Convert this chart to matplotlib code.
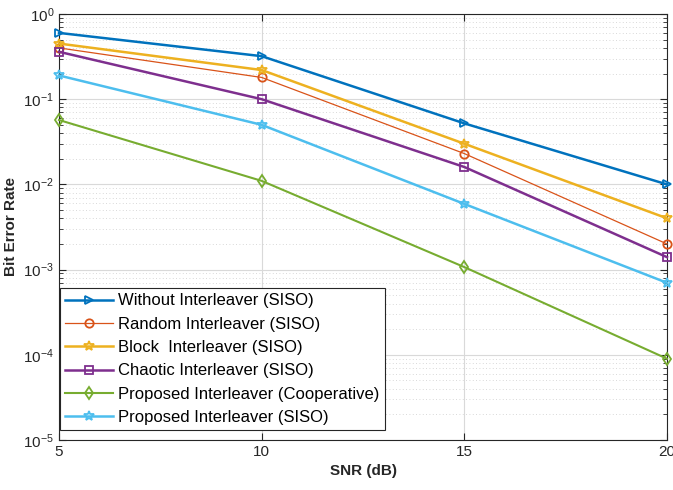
import matplotlib
matplotlib.use("Agg")
import matplotlib.pyplot as plt
from matplotlib.ticker import LogLocator, NullFormatter

plt.rcParams['font.family'] = ['Liberation Sans', 'DejaVu Sans']

snr = [5, 10, 15, 20]
without = [0.60, 0.32, 0.052, 0.010]
random_il = [0.40, 0.18, 0.023, 0.0020]
block_il = [0.45, 0.22, 0.030, 0.0040]
chaotic = [0.36, 0.10, 0.016, 0.0014]
prop_coop = [0.057, 0.011, 0.00107, 0.00009]
prop_siso = [0.19, 0.05, 0.0059, 0.0007]

labels = ["Without Interleaver (SISO)", "Random Interleaver (SISO)",
          "Block  Interleaver (SISO)", "Chaotic Interleaver (SISO)",
          "Proposed Interleaver (Cooperative)", "Proposed Interleaver (SISO)"]

fig = plt.figure(figsize=(6.73, 4.90), dpi=100)
ax = fig.add_axes([59/673, 50/490, 608/673, 426/490])

styles = [
    (without, '#0072BD', '>', 1.8, 6),
    (random_il, '#D95319', 'o', 0.9, 6),
    (block_il, '#EDB120', '*', 1.8, 7),
    (chaotic, '#7E2F8E', 's', 1.8, 6),
    (prop_coop, '#77AC30', 'd', 1.5, 6),
    (prop_siso, '#4DBEEE', '*', 1.8, 7),
]
for (vals, c, m, lw, ms), lab in zip(styles, labels):
    ax.semilogy(snr, vals, color=c, marker=m, lw=lw, ms=ms,
                markerfacecolor='none', markeredgewidth=1.3, label=lab, clip_on=False, zorder=3)

ax.set_xlim(5, 20)
ax.set_ylim(1e-5, 1)
ax.set_xticks([5, 10, 15, 20])
ax.yaxis.set_major_locator(LogLocator(base=10, numticks=10))
ax.yaxis.set_minor_locator(LogLocator(base=10, subs=range(2, 10), numticks=10))
ax.yaxis.set_minor_formatter(NullFormatter())
ax.grid(True, which='major', color='#d9d9d9', lw=0.8)
ax.grid(True, which='minor', axis='y', color='#cccccc', lw=0.6, ls=(0, (1, 3)))
ax.tick_params(which='both', direction='in', top=True, right=True, labelsize=11, colors='#262626')
ax.tick_params(which='major', length=5)
ax.tick_params(which='minor', length=3)
for s in ax.spines.values():
    s.set_color('#262626')
    s.set_linewidth(0.8)

ax.set_xlabel('SNR (dB)', fontsize=11, fontweight='bold', color='#262626')
ax.set_ylabel('Bit Error Rate', fontsize=11, fontweight='bold', color='#262626')

leg = ax.legend(loc='lower left', bbox_to_anchor=(1/608, 10/426), borderaxespad=0,
                fontsize=12, frameon=True, fancybox=False,
                edgecolor='#262626', framealpha=1,
                handlelength=2.9, labelspacing=0.5, borderpad=0.3, handletextpad=0.3)
leg.get_frame().set_linewidth(0.8)

fig.savefig('out.png', dpi=100)
